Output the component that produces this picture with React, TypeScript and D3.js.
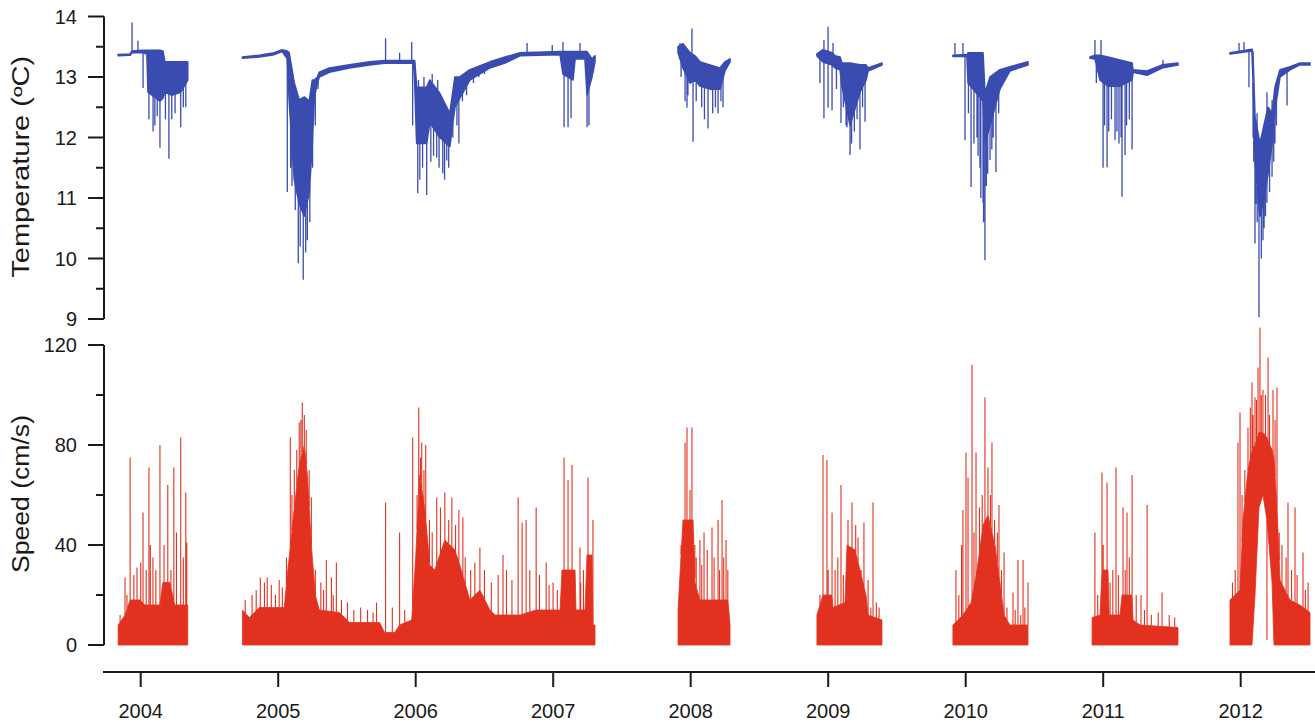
import React from "react";
import * as d3 from "d3";

// ---------- axis ticks ----------
const yearTicks = [2004, 2005, 2006, 2007, 2008, 2009, 2010, 2011, 2012];
const tempTicks = [9, 10, 11, 12, 13, 14];
const tempMinorTicks = [9.5, 10.5, 11.5, 12.5, 13.5];
const speedTicks = [0, 40, 80, 120];
const speedMinorTicks = [20, 60, 100];

// ---------- temperature: [decimal year, upper, lower] band + spikes [year, value] ----------
const tempBand0304 = [
  [2003.836, 13.37, 13.35], [2003.923, 13.38, 13.36], [2003.937, 13.43, 13.4], [2004.017, 13.44, 13.4],
  [2004.045, 13.44, 13.38], [2004.053, 13.44, 12.75], [2004.14, 13.44, 12.6], [2004.161, 13.43, 12.65],
  [2004.176, 13.25, 12.75], [2004.226, 13.25, 12.7], [2004.291, 13.25, 12.75], [2004.342, 13.25, 12.95],
];
const tempSpikes0304 = [
  [2003.937, 13.9], [2003.98, 13.6], [2004.017, 12.82], [2004.103, 12.2], [2004.14, 11.83],
  [2004.205, 11.65], [2004.226, 12.3], [2004.291, 12.17], [2004.328, 12.5],
  [2004.06, 12.3], [2004.09, 12.1], [2004.12, 12.35], [2004.18, 12.3], [2004.25, 12.4], [2004.31, 12.5],
];

const tempBand0407 = [
  [2004.74, 13.33, 13.31], [2004.863, 13.36, 13.33], [2004.971, 13.4, 13.37], [2005.029, 13.45, 13.42],
  [2005.066, 13.43, 13.3], [2005.08, 13.4, 12.6], [2005.117, 12.9, 11.3], [2005.153, 12.62, 10.9],
  [2005.19, 12.67, 10.7], [2005.226, 12.6, 11.1], [2005.248, 12.95, 11.9], [2005.263, 12.95, 12.67],
  [2005.285, 13.0, 12.9], [2005.299, 13.08, 13.0], [2005.372, 13.15, 13.08], [2005.518, 13.2, 13.15],
  [2005.664, 13.25, 13.2], [2005.774, 13.27, 13.23], [2005.985, 13.27, 13.23], [2005.993, 13.27, 12.9],
  [2006.007, 12.83, 11.9], [2006.08, 12.83, 11.9], [2006.102, 12.95, 12.25], [2006.175, 12.73, 12.0],
  [2006.248, 12.4, 11.85], [2006.285, 13.0, 12.5], [2006.321, 13.0, 12.65], [2006.394, 13.12, 12.95],
  [2006.54, 13.25, 13.15], [2006.65, 13.33, 13.23], [2006.759, 13.4, 13.35], [2007.05, 13.42, 13.37],
  [2007.071, 13.42, 13.05], [2007.144, 13.42, 12.95], [2007.159, 13.42, 13.3], [2007.231, 13.42, 13.3],
  [2007.246, 13.42, 12.7], [2007.282, 13.3, 13.0], [2007.304, 13.35, 13.25],
];
const tempSpikes0407 = [
  [2005.066, 11.1], [2005.124, 10.8], [2005.146, 9.92], [2005.182, 9.65], [2005.212, 10.3],
  [2005.09, 11.5], [2005.1, 11.2], [2005.16, 10.2], [2005.2, 10.1], [2005.23, 10.6], [2005.25, 11.5],
  [2005.27, 12.2], [2005.29, 12.8],
  [2005.781, 13.64], [2005.883, 13.4], [2005.971, 13.58], [2005.978, 12.2], [2006.015, 11.08],
  [2006.08, 11.05], [2006.153, 11.67], [2006.197, 11.41], [2006.226, 11.62], [2006.314, 11.9],
  [2006.03, 11.3], [2006.05, 11.5], [2006.11, 11.6], [2006.13, 11.7], [2006.17, 11.5], [2006.21, 11.3],
  [2006.24, 11.5], [2006.27, 12.0], [2006.3, 12.2], [2006.34, 12.6], [2006.37, 12.7], [2006.42, 12.9],
  [2006.46, 13.0], [2006.5, 13.05], [2006.02, 12.95], [2006.06, 13.0], [2006.12, 13.05], [2006.16, 12.95],
  [2006.81, 13.56], [2006.993, 13.53], [2007.071, 13.58], [2007.195, 13.56], [2007.079, 12.17],
  [2007.108, 12.17], [2007.13, 12.32], [2007.246, 12.17], [2007.26, 12.2],
];

const tempBand0708 = [
  [2007.908, 13.5, 13.4], [2007.944, 13.55, 13.15], [2007.995, 13.4, 12.9], [2008.031, 13.35, 12.95],
  [2008.067, 13.25, 12.85], [2008.14, 13.2, 12.8], [2008.213, 13.15, 12.8], [2008.249, 13.25, 13.1],
  [2008.286, 13.3, 13.25],
];
const tempSpikes0708 = [
  [2007.922, 13.56], [2008.009, 13.8], [2007.959, 12.6], [2007.973, 12.49], [2008.017, 11.93],
  [2008.126, 12.15], [2008.199, 12.4], [2008.235, 12.5],
  [2007.93, 13.0], [2007.98, 12.7], [2008.04, 12.6], [2008.08, 12.5], [2008.1, 12.3], [2008.16, 12.4],
  [2008.18, 12.5], [2008.22, 12.6],
];

const tempBand0809 = [
  [2008.918, 13.38, 13.35], [2008.962, 13.45, 13.25], [2009.028, 13.4, 13.2], [2009.05, 13.35, 13.15],
  [2009.086, 13.33, 13.12], [2009.1, 13.23, 12.85], [2009.159, 13.23, 12.2], [2009.231, 13.2, 12.75],
  [2009.275, 13.2, 12.95], [2009.29, 13.15, 13.1], [2009.391, 13.23, 13.2],
];
const tempSpikes0809 = [
  [2008.969, 13.61], [2008.999, 13.83], [2009.035, 13.56], [2008.969, 12.32], [2008.999, 12.49],
  [2009.028, 12.45], [2009.093, 12.24], [2009.137, 12.17], [2009.159, 11.71], [2009.231, 11.8],
  [2009.268, 12.26],
  [2008.94, 12.9], [2009.06, 12.8], [2009.11, 12.5], [2009.13, 12.2], [2009.17, 11.9], [2009.19, 12.1],
  [2009.21, 12.3], [2009.25, 12.5],
];

const tempBand0910 = [
  [2009.907, 13.36, 13.34], [2010.009, 13.37, 13.34], [2010.017, 13.4, 12.9], [2010.126, 13.4, 12.6],
  [2010.14, 12.73, 11.9], [2010.177, 13.0, 12.2], [2010.249, 13.12, 12.8], [2010.322, 13.17, 13.1],
  [2010.453, 13.25, 13.2],
];
const tempSpikes0910 = [
  [2009.922, 13.56], [2009.98, 13.56], [2009.995, 11.96], [2010.039, 11.18], [2010.082, 12.0],
  [2010.104, 11.5], [2010.126, 10.92], [2010.14, 9.97], [2010.177, 11.63], [2010.22, 11.43],
  [2010.02, 12.4], [2010.06, 11.9], [2010.09, 11.7], [2010.11, 11.0], [2010.13, 10.6], [2010.15, 11.2],
  [2010.16, 11.4], [2010.19, 11.8], [2010.2, 12.0], [2010.24, 12.4],
];

const tempBand1011 = [
  [2010.904, 13.33, 13.31], [2010.94, 13.36, 13.3], [2010.977, 13.36, 12.95], [2011.035, 13.33, 12.85],
  [2011.122, 13.28, 12.85], [2011.21, 13.23, 12.95], [2011.217, 13.12, 13.08], [2011.319, 13.1, 13.03],
  [2011.428, 13.2, 13.15], [2011.544, 13.23, 13.2],
];
const tempSpikes1011 = [
  [2010.94, 13.61], [2010.984, 13.61], [2010.999, 11.5], [2011.028, 11.51], [2011.086, 11.96],
  [2011.115, 11.9], [2011.137, 11.02], [2011.159, 11.71], [2011.21, 11.8], [2011.435, 13.28],
  [2010.95, 12.9], [2011.01, 12.2], [2011.04, 12.1], [2011.06, 12.3], [2011.1, 12.1], [2011.13, 12.0],
  [2011.17, 12.2], [2011.19, 12.3],
];

const tempBand1112 = [
  [2011.922, 13.4, 13.38], [2012.082, 13.46, 13.43], [2012.089, 13.4, 13.0], [2012.104, 12.34, 11.6],
  [2012.14, 11.9, 10.7], [2012.169, 12.2, 11.0], [2012.199, 12.5, 11.4], [2012.228, 12.4, 11.9],
  [2012.249, 12.83, 12.45], [2012.286, 13.12, 13.0], [2012.359, 13.17, 13.12], [2012.431, 13.23, 13.2],
  [2012.504, 13.23, 13.2],
];
const tempSpikes1112 = [
  [2011.988, 13.56], [2012.024, 13.58], [2012.06, 12.83], [2012.104, 10.25], [2012.133, 9.03],
  [2012.162, 10.3], [2012.191, 10.92], [2012.228, 11.35], [2012.249, 11.9], [2012.119, 12.4],
  [2012.191, 12.75], [2012.228, 12.62], [2012.337, 12.53],
  [2012.11, 10.9], [2012.12, 10.6], [2012.15, 10.0], [2012.17, 10.5], [2012.18, 10.7], [2012.21, 11.1],
  [2012.24, 11.6], [2012.26, 12.2], [2012.09, 12.0], [2012.095, 11.6],
];

// ---------- speed: [decimal year, upper, lower(optional)] band + spikes [year, value] ----------
const speedBand0304 = [
  [2003.836, 8], [2003.886, 12], [2003.923, 18], [2003.995, 18], [2004.031, 16], [2004.14, 16],
  [2004.161, 25], [2004.212, 25], [2004.248, 16], [2004.342, 16],
];
const speedSpikes0304 = [
  [2003.886, 27], [2003.923, 75], [2003.973, 31], [2004.017, 53], [2004.06, 71], [2004.089, 35],
  [2004.14, 80], [2004.197, 64], [2004.241, 71], [2004.291, 83], [2004.328, 61], [2004.335, 41],
  [2003.85, 12], [2003.9, 20], [2003.95, 28], [2004.0, 33], [2004.04, 30], [2004.07, 40], [2004.11, 30],
  [2004.17, 40], [2004.22, 30], [2004.26, 45], [2004.31, 35],
];

const speedBand0407 = [
  [2004.74, 14], [2004.79, 11], [2004.863, 15], [2005.044, 15], [2005.066, 28], [2005.08, 35],
  [2005.117, 55], [2005.153, 72], [2005.19, 80], [2005.212, 68], [2005.241, 40], [2005.27, 20],
  [2005.299, 14], [2005.445, 13], [2005.518, 9], [2005.737, 9], [2005.774, 5], [2005.847, 5],
  [2005.883, 8], [2005.971, 10], [2006.0, 35], [2006.029, 68], [2006.066, 55], [2006.102, 32],
  [2006.139, 30], [2006.175, 36], [2006.212, 42], [2006.285, 38], [2006.321, 32], [2006.394, 18],
  [2006.467, 22], [2006.54, 14], [2006.577, 12], [2006.759, 12], [2006.876, 14], [2007.05, 14],
  [2007.064, 30], [2007.159, 30], [2007.166, 14], [2007.231, 14], [2007.246, 36], [2007.282, 36],
  [2007.289, 8], [2007.304, 8],
];
const speedSpikes0407 = [
  [2004.87, 27], [2004.92, 27], [2005.007, 26], [2005.088, 83], [2005.117, 70], [2005.153, 89],
  [2005.175, 97], [2005.204, 86], [2005.241, 59], [2005.35, 34], [2005.387, 27], [2005.423, 33],
  [2005.504, 17], [2005.715, 17], [2005.781, 57], [2005.883, 45], [2005.978, 83], [2006.022, 95],
  [2006.044, 81], [2006.073, 80], [2006.153, 59], [2006.212, 61], [2006.263, 59], [2006.314, 54],
  [2006.343, 51], [2006.467, 39], [2006.635, 36], [2006.745, 59], [2006.774, 49], [2006.803, 50],
  [2006.876, 55], [2006.949, 33], [2006.999, 25], [2007.079, 75], [2007.108, 66], [2007.137, 72],
  [2007.195, 39], [2007.253, 67], [2007.289, 50],
  [2004.76, 18], [2004.81, 20], [2004.84, 22], [2004.9, 25], [2004.95, 24], [2004.98, 20], [2005.03, 23],
  [2005.06, 35], [2005.1, 60], [2005.135, 78], [2005.165, 90], [2005.19, 92], [2005.225, 70],
  [2005.27, 30], [2005.31, 25], [2005.33, 22], [2005.4, 20], [2005.46, 18], [2005.55, 14],
  [2005.6, 15], [2005.65, 14], [2005.69, 13], [2005.83, 15], [2005.92, 14], [2006.01, 60],
  [2006.035, 75], [2006.06, 70], [2006.1, 50], [2006.12, 45], [2006.18, 55], [2006.24, 50],
  [2006.29, 48], [2006.36, 35], [2006.4, 30], [2006.43, 33], [2006.5, 30], [2006.55, 25], [2006.6, 28],
  [2006.66, 30], [2006.7, 26], [2006.83, 30], [2006.9, 28], [2006.97, 24], [2007.03, 22], [2007.2, 25],
  [2007.22, 30],
];

const speedBand0708 = [
  [2007.908, 14], [2007.944, 50], [2008.017, 50], [2008.031, 25], [2008.067, 18], [2008.271, 18],
  [2008.286, 8],
];
const speedSpikes0708 = [
  [2007.959, 81], [2007.973, 87], [2007.995, 62], [2008.009, 87], [2008.067, 42], [2008.097, 45],
  [2008.155, 47], [2008.199, 50], [2008.228, 58], [2008.257, 42],
  [2007.93, 40], [2008.03, 40], [2008.04, 35], [2008.08, 32], [2008.12, 38], [2008.17, 35],
  [2008.21, 30], [2008.24, 35], [2008.27, 30],
];

const speedBand0809 = [
  [2008.918, 12], [2008.962, 20], [2009.028, 20], [2009.035, 15], [2009.122, 17], [2009.137, 40],
  [2009.195, 38], [2009.231, 30], [2009.275, 20], [2009.29, 12], [2009.391, 10],
];
const speedSpikes0809 = [
  [2008.962, 76], [2008.991, 74], [2009.028, 53], [2009.093, 64], [2009.144, 50], [2009.173, 57],
  [2009.217, 43], [2009.26, 49], [2009.29, 26], [2009.326, 57],
  [2008.94, 20], [2009.0, 30], [2009.05, 30], [2009.07, 35], [2009.11, 28], [2009.2, 48], [2009.24, 30],
  [2009.31, 15], [2009.35, 17], [2009.37, 15],
];

const speedBand0910 = [
  [2009.907, 8], [2009.98, 12], [2010.039, 17], [2010.082, 30], [2010.126, 48], [2010.162, 52],
  [2010.213, 40], [2010.249, 25], [2010.279, 12], [2010.322, 8], [2010.453, 8],
];
const speedSpikes0910 = [
  [2009.929, 30], [2009.98, 54], [2010.002, 77], [2010.017, 67], [2010.046, 112], [2010.075, 77],
  [2010.14, 99], [2010.162, 71], [2010.191, 81], [2010.242, 56], [2010.279, 37], [2010.344, 21],
  [2010.38, 34], [2010.417, 34], [2010.453, 25],
  [2009.95, 20], [2009.97, 40], [2010.06, 45], [2010.1, 55], [2010.12, 60], [2010.18, 60], [2010.21, 50],
  [2010.23, 45], [2010.26, 30], [2010.3, 15], [2010.36, 14], [2010.4, 12], [2010.43, 15],
];

const speedBand1011 = [
  [2010.919, 11], [2010.977, 12], [2010.991, 30], [2011.035, 30], [2011.043, 12], [2011.122, 12],
  [2011.137, 20], [2011.21, 20], [2011.217, 10], [2011.268, 8], [2011.544, 7],
];
const speedSpikes1011 = [
  [2010.94, 45], [2010.991, 69], [2011.028, 65], [2011.093, 71], [2011.144, 55], [2011.173, 53],
  [2011.21, 68], [2011.275, 20], [2011.319, 56], [2011.428, 21],
  [2010.96, 20], [2011.0, 40], [2011.05, 25], [2011.07, 30], [2011.11, 28], [2011.16, 30], [2011.19, 35],
  [2011.24, 20], [2011.3, 14], [2011.35, 12], [2011.4, 13], [2011.48, 12], [2011.52, 11],
];

const speedBand1112 = [
  [2011.922, 18], [2011.995, 22], [2012.017, 50], [2012.053, 70], [2012.082, 78, 0], [2012.104, 80, 20],
  [2012.133, 85, 55], [2012.162, 85, 60], [2012.191, 83, 50], [2012.228, 78, 25], [2012.242, 75, 0],
  [2012.264, 55], [2012.286, 26], [2012.322, 22], [2012.359, 18], [2012.431, 16], [2012.504, 13],
];
const speedSpikes1112 = [
  [2011.98, 81], [2011.995, 93], [2012.053, 87], [2012.082, 105], [2012.104, 99], [2012.126, 111],
  [2012.14, 127], [2012.162, 102], [2012.191, 2], [2012.199, 115], [2012.235, 102], [2012.264, 103],
  [2012.344, 57], [2012.395, 55], [2012.453, 37],
  [2011.94, 25], [2011.96, 30], [2012.01, 60], [2012.03, 70], [2012.07, 95], [2012.09, 92],
  [2012.115, 98], [2012.15, 100], [2012.18, 100], [2012.21, 92], [2012.25, 90], [2012.28, 45],
  [2012.3, 40], [2012.33, 35], [2012.37, 30], [2012.41, 28], [2012.47, 22], [2012.49, 25],
];

const tempSeasons = [
  [tempBand0304, tempSpikes0304], [tempBand0407, tempSpikes0407], [tempBand0708, tempSpikes0708],
  [tempBand0809, tempSpikes0809], [tempBand0910, tempSpikes0910], [tempBand1011, tempSpikes1011],
  [tempBand1112, tempSpikes1112],
];
const speedSeasons = [
  [speedBand0304, speedSpikes0304], [speedBand0407, speedSpikes0407], [speedBand0708, speedSpikes0708],
  [speedBand0809, speedSpikes0809], [speedBand0910, speedSpikes0910], [speedBand1011, speedSpikes1011],
  [speedBand1112, speedSpikes1112],
];

const BLUE = "#3a4cb0";
const RED = "#e2321f";
const FONT = "'Liberation Sans', Arial, Helvetica, sans-serif";

function interp(band: number[][], t: number, k: number): number {
  const i = d3.bisector((d: number[]) => d[0]).left(band, t);
  if (i <= 0) return band[0][k] ?? 0;
  if (i >= band.length) return band[band.length - 1][k] ?? 0;
  const a = band[i - 1], b = band[i];
  const f = (t - a[0]) / (b[0] - a[0]);
  const va = a[k] ?? 0, vb = b[k] ?? 0;
  return va + (vb - va) * f;
}

export default function App() {
  const W = 1315, H = 722;
  const x = d3.scaleLinear().domain([2004, 2012]).range([140.7, 1240.7]);
  const yT = d3.scaleLinear().domain([9, 14]).range([319, 16.5]);
  const yS = d3.scaleLinear().domain([0, 120]).range([645, 345]);
  const axisX = 104;
  const xAxisY = 672;

  const tempArea = d3.area<number[]>().x(d => x(d[0])).y0(d => yT(d[2])).y1(d => yT(d[1]));
  const speedArea = d3.area<number[]>().x(d => x(d[0])).y0(d => yS(d[2] ?? 0)).y1(d => yS(d[1]));

  const spikePath = (band: number[][], spikes: number[][], y: (v: number) => number) => {
    let p = "";
    for (const [t, v] of spikes) {
      const hi = interp(band, t, 1);
      const lo = interp(band, t, 2);
      let from: number | null = null;
      if (v > hi) from = hi;
      else if (v < lo) from = lo;
      if (from === null) continue;
      p += `M${x(t)},${y(from)}V${y(v)}`;
    }
    return p;
  };

  return (
    <svg width={W} height={H} style={{ position: "absolute", left: 0, top: 0, background: "#fff" }} fontFamily={FONT}>
      {/* temperature */}
      <g>
        {tempSeasons.map(([band, spikes], i) => (
          <g key={i}>
            <path d={tempArea(band) || ""} fill={BLUE} stroke={BLUE} strokeWidth={1.6} strokeLinejoin="round" />
            <path d={spikePath(band, spikes, yT)} stroke={BLUE} strokeWidth={1.3} fill="none" />
          </g>
        ))}
      </g>
      {/* speed */}
      <g>
        {speedSeasons.map(([band, spikes], i) => (
          <g key={i}>
            <path d={speedArea(band) || ""} fill={RED} stroke={RED} strokeWidth={0.8} strokeLinejoin="round" />
            <path d={spikePath(band, spikes, yS)} stroke={RED} strokeWidth={1.1} fill="none" />
          </g>
        ))}
      </g>

      {/* temperature axis */}
      <g stroke="#1a1a1a" strokeWidth={2}>
        <line x1={axisX} x2={axisX} y1={yT(14)} y2={yT(9)} />
        {tempTicks.map(v => <line key={v} x1={axisX - 16} x2={axisX} y1={yT(v)} y2={yT(v)} />)}
        {tempMinorTicks.map(v => <line key={v} x1={axisX - 8} x2={axisX} y1={yT(v)} y2={yT(v)} />)}
      </g>
      {tempTicks.map(v => (
        <text key={v} x={77} y={yT(v)} dy="0.36em" textAnchor="end" fontSize={20} fill="#1a1a1a">{v}</text>
      ))}

      {/* speed axis */}
      <g stroke="#1a1a1a" strokeWidth={2}>
        <line x1={axisX} x2={axisX} y1={yS(120)} y2={yS(0)} />
        {speedTicks.map(v => <line key={v} x1={axisX - 16} x2={axisX} y1={yS(v)} y2={yS(v)} />)}
        {speedMinorTicks.map(v => <line key={v} x1={axisX - 8} x2={axisX} y1={yS(v)} y2={yS(v)} />)}
      </g>
      {speedTicks.map(v => (
        <text key={v} x={77} y={yS(v)} dy="0.36em" textAnchor="end" fontSize={20} fill="#1a1a1a">{v}</text>
      ))}

      {/* x axis */}
      <g stroke="#1a1a1a" strokeWidth={2}>
        <line x1={103} x2={W} y1={xAxisY} y2={xAxisY} />
        {yearTicks.map(v => <line key={v} x1={x(v)} x2={x(v)} y1={xAxisY} y2={xAxisY + 15} />)}
      </g>
      {yearTicks.map(v => (
        <text key={v} x={x(v)} y={718} textAnchor="middle" fontSize={20} fill="#1a1a1a">{v}</text>
      ))}

      {/* axis titles */}
      <text transform={`translate(29,${(yT(14) + yT(9)) / 2 - 1}) rotate(-90)`} textAnchor="middle" fontSize={23}
        textLength={222} lengthAdjust="spacingAndGlyphs" fill="#1a1a1a">Temperature (ºC)</text>
      <text transform={`translate(29,${(yS(120) + yS(0)) / 2 - 1}) rotate(-90)`} textAnchor="middle" fontSize={23}
        textLength={158} lengthAdjust="spacingAndGlyphs" fill="#1a1a1a">Speed (cm/s)</text>
    </svg>
  );
}
